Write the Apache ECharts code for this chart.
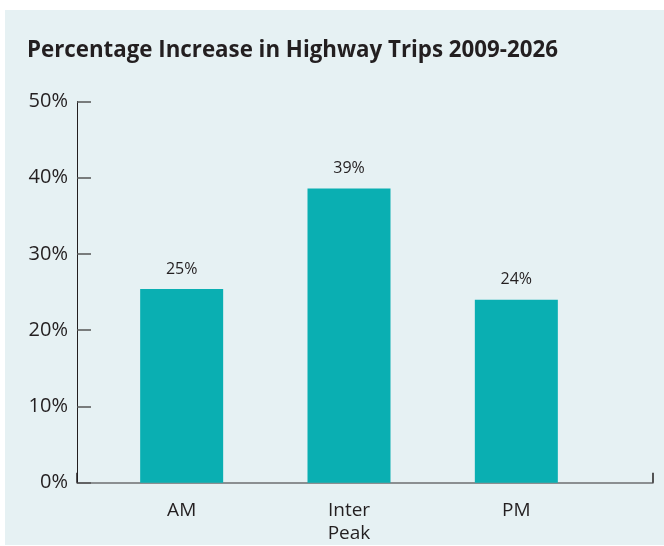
<!DOCTYPE html>
<html>
<head>
<meta charset="utf-8">
<script src="https://cdn.jsdelivr.net/npm/echarts@6/dist/echarts.min.js"></script>
<style>
html,body{margin:0;padding:0;background:#ffffff;}
#panel{position:absolute;left:5px;top:10px;width:659px;height:535px;background:#e6f1f3;}
#chart{position:absolute;left:0;top:0;width:664px;height:546px;}
</style>
</head>
<body>
<div id="panel"></div>
<div id="chart"></div>
<script>
const categories = ['AM', 'Inter\nPeak', 'PM'];
const values = [25.4, 38.6, 24.0];
const yTicks = [0, 10, 20, 30, 40, 50];

const chart = echarts.init(document.getElementById('chart'), null, {renderer: 'canvas'});
const textColor = '#231f20';
const font = 'Open Sans';
chart.setOption({
  backgroundColor: 'transparent',
  animation: false,
  title: {
    text: 'Percentage Increase in Highway Trips 2009-2026',
    left: 22, top: 35,
    textStyle: {fontFamily: font, fontWeight: 'bold', fontSize: 22.3, color: textColor}
  },
  grid: [
    {left: 98, right: 64, top: 101.5, bottom: 63.3},
    {left: 77, right: 11, top: 101.5, bottom: 63.3}
  ],
  xAxis: [
    {
      type: 'category', gridIndex: 0, data: categories,
      axisLine: {show: false}, axisTick: {show: false},
      axisLabel: {fontFamily: font, fontSize: 19, color: textColor, margin: 16, lineHeight: 23}
    },
    {
      type: 'category', gridIndex: 1, data: ['', ''], boundaryGap: false,
      axisLine: {show: true, lineStyle: {color: '#6d6f71', width: 1.5}},
      axisTick: {show: true, inside: true, length: 10, lineStyle: {color: textColor, width: 1.5}},
      axisLabel: {show: false}, splitLine: {show: false}
    }
  ],
  yAxis: [
    {
      type: 'value', gridIndex: 0, min: yTicks[0], max: yTicks[yTicks.length - 1], interval: 10,
      offset: 21,
      axisLine: {show: true, lineStyle: {color: textColor, width: 1}},
      axisTick: {show: true, inside: true, length: 14, lineStyle: {color: '#555555', width: 1.5}},
      axisLabel: {fontFamily: font, fontSize: 20, color: textColor, margin: 9, formatter: '{value}%', padding: [4, 0, 0, 0]},
      splitLine: {show: false}
    },
    {type: 'value', gridIndex: 1, min: 0, max: 50, show: false}
  ],
  series: [{
    type: 'bar', xAxisIndex: 0, yAxisIndex: 0,
    data: values, barWidth: 83,
    itemStyle: {color: '#0aafb2'},
    label: {
      show: true, position: 'top', distance: 12,
      fontFamily: font, fontSize: 16, color: textColor,
      formatter: p => Math.round(p.value) + '%'
    }
  }]
});
</script>
</body>
</html>
